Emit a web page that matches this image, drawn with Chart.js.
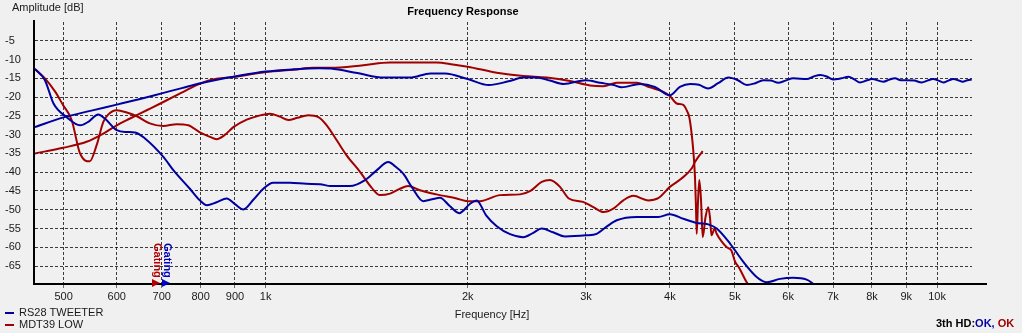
<!DOCTYPE html>
<html>
<head>
<meta charset="utf-8">
<title>Frequency Response</title>
<script src="https://cdn.jsdelivr.net/npm/chart.js@4.4.0/dist/chart.umd.min.js"></script>
<style>
  html, body { margin: 0; padding: 0; background: #f0f0f0; }
  #fr { display: block; }
</style>
</head>
<body>
<canvas id="fr" width="1022" height="333"></canvas>
<script>
// RS28 tweeter: response and 3rd harmonic
const tweeterFreq = [453, 500, 550, 600, 650, 700, 750, 800, 850, 900, 1000, 1100, 1200, 1250, 1370, 1500, 1640, 1760, 1850, 2000, 2150, 2300, 2420, 2530, 2650, 2780, 3000, 3150, 3300, 3390, 3610, 3800, 4000, 4140, 4290, 4420, 4560, 4720, 4890, 5050, 5210, 5360, 5510, 5660, 5800, 5950, 6110, 6400, 6550, 6700, 6850, 7000, 7200, 7380, 7530, 7680, 7850, 8000, 8320, 8500, 8660, 8830, 9000, 9250, 9490, 9680, 9870, 10050, 10220, 10400, 10580, 10750, 10920, 11100, 11265];
const tweeterDb   = [-28.0, -25.4, -23.6, -22.0, -20.5, -19.0, -17.6, -16.3, -15.3, -14.5, -13.2, -12.6, -12.3, -12.4, -13.6, -14.8, -14.8, -13.7, -13.7, -15.2, -16.8, -15.8, -14.8, -14.8, -15.6, -16.5, -15.5, -16.2, -16.8, -17.4, -16.5, -17.3, -19.5, -17.3, -16.5, -16.7, -17.7, -16.3, -14.8, -15.5, -16.8, -16.3, -15.5, -15.6, -16.2, -15.6, -15.0, -15.2, -14.5, -14.1, -14.5, -15.3, -15.0, -14.6, -15.3, -16.1, -15.6, -15.2, -15.9, -15.3, -15.0, -15.5, -15.5, -15.6, -16.1, -15.6, -15.2, -15.6, -16.1, -15.6, -15.2, -15.5, -15.9, -15.5, -15.3];
const tweeterHdFreq = [453, 469, 483, 505, 529, 545, 563, 576, 600, 620, 639, 661, 704, 729, 771, 798, 817, 845, 875, 900, 926, 960, 992, 1026, 1087, 1150, 1205, 1250, 1335, 1406, 1463, 1523, 1560, 1603, 1650, 1717, 1770, 1818, 1880, 1942, 2016, 2062, 2130, 2209, 2312, 2420, 2500, 2577, 2680, 2792, 3000, 3112, 3220, 3334, 3571, 3844, 4000, 4189, 4386, 4563, 4697, 4917, 5147, 5387, 5576, 5836, 6109, 6395, 6544];
const tweeterHdDb   = [-12.5, -15.5, -21.7, -25.3, -27.5, -26.5, -24.6, -25.7, -28.8, -29.3, -29.4, -31.0, -35.9, -39.5, -44.4, -47.5, -48.8, -48.0, -47.0, -48.5, -49.9, -47.2, -44.4, -42.8, -42.8, -43.1, -43.2, -43.7, -43.7, -42.1, -39.5, -37.3, -38.5, -40.4, -43.9, -47.7, -47.2, -46.8, -49.0, -50.9, -48.4, -47.5, -51.5, -54.4, -56.5, -57.3, -56.2, -55.0, -56.0, -57.1, -56.8, -56.4, -54.5, -52.8, -51.9, -51.9, -51.2, -52.4, -53.5, -53.9, -55.0, -59.0, -63.9, -67.9, -69.3, -68.4, -68.1, -68.6, -69.7];

// MDT39 low: response and 3rd harmonic
const wooferFreq = [453, 499, 541, 573, 600, 628, 665, 704, 754, 789, 826, 900, 1003, 1100, 1178, 1250, 1398, 1532, 1650, 1797, 1900, 2000, 2209, 2420, 2622, 2840, 3042, 3184, 3334, 3571, 3737, 3912, 4000, 4095, 4189, 4237, 4275, 4310, 4334, 4360, 4375, 4386, 4405, 4425, 4450, 4477, 4520, 4563, 4590, 4614, 4664, 4697, 4780, 4862, 4937, 5005, 5067, 5206, 5300];
const wooferDb   = [-35.0, -33.5, -31.9, -29.7, -27.5, -25.7, -23.5, -21.3, -18.6, -16.8, -15.5, -14.6, -13.3, -12.7, -12.2, -12.2, -11.5, -10.8, -10.8, -10.8, -11.3, -11.9, -13.5, -14.4, -14.8, -15.7, -16.9, -17.1, -16.2, -16.2, -17.4, -18.6, -19.7, -21.7, -22.1, -23.5, -25.3, -29.7, -34.1, -41.3, -49.3, -56.4, -48.0, -42.1, -47.0, -57.3, -52.0, -49.3, -52.0, -56.8, -55.0, -56.4, -58.5, -60.0, -60.8, -63.9, -65.3, -69.3, -71.0];
const wooferHdFreq = [453, 469, 486, 499, 514, 529, 547, 560, 573, 583, 600, 621, 643, 672, 704, 737, 767, 798, 826, 845, 870, 895, 937, 975, 1015, 1050, 1081, 1115, 1157, 1198, 1233, 1276, 1320, 1382, 1438, 1480, 1532, 1585, 1630, 1697, 1797, 1925, 2000, 2085, 2234, 2393, 2480, 2577, 2652, 2744, 2829, 2970, 3077, 3184, 3295, 3410, 3529, 3713, 3844, 4000, 4163, 4310, 4360, 4410, 4477];
const wooferHdDb   = [-12.5, -15.0, -18.6, -22.1, -26.1, -35.0, -37.1, -32.8, -26.6, -24.6, -23.5, -24.1, -25.1, -27.0, -27.7, -27.2, -27.5, -29.4, -30.6, -31.2, -30.0, -28.0, -26.0, -25.0, -24.4, -25.2, -26.1, -25.5, -24.8, -25.3, -27.5, -31.5, -35.5, -39.9, -44.1, -46.1, -45.7, -44.4, -43.7, -44.8, -45.9, -47.0, -47.7, -47.7, -46.1, -45.9, -45.0, -42.6, -42.1, -43.9, -47.0, -47.9, -49.3, -50.6, -49.7, -47.5, -46.3, -47.5, -46.9, -43.9, -41.7, -39.0, -37.3, -35.9, -34.4];

// axes
const freqTicks = [500, 600, 700, 800, 900, 1000, 2000, 3000, 4000, 5000, 6000, 7000, 8000, 9000, 10000];
const dbTicks = [-65, -60, -55, -50, -45, -40, -35, -30, -25, -20, -15, -10, -5];
const freqMin = 453.3, freqMax = 11275;
const dbMin = -69.5, dbMax = 0;

// gate positions (Hz): woofer, tweeter
const gateFreqs = [677, 701];

const BLUE = '#0000a0';
const RED = '#a00000';
const FONT = "'Liberation Sans', Arial, sans-serif";

const toPoints = (fs, ds) => fs.map((f, i) => ({ x: f, y: ds[i] }));

function lineSet(label, fs, ds, color) {
  return {
    label,
    data: toPoints(fs, ds),
    borderColor: color,
    borderWidth: 2,
    pointRadius: 0,
    fill: false,
    cubicInterpolationMode: 'monotone'
  };
}

// labels, axis lines, legend, gating marks
const decorations = {
  id: 'decorations',
  afterDraw(chart) {
    const { ctx, chartArea, scales } = chart;
    ctx.save();

    // axis lines
    ctx.strokeStyle = '#000';
    ctx.lineWidth = 2;
    ctx.beginPath();
    ctx.moveTo(chartArea.left - 1, 20);
    ctx.lineTo(chartArea.left - 1, chartArea.bottom + 1);
    ctx.lineTo(987, chartArea.bottom + 1);
    ctx.stroke();

    ctx.textBaseline = 'middle';
    ctx.fillStyle = '#1a1a1a';
    ctx.font = '11px ' + FONT;
    ctx.textAlign = 'left';
    ctx.fillText('Amplitude [dB]', 12, 8);
    ctx.textAlign = 'center';
    ctx.fillText('Frequency [Hz]', 492, 315);

    ctx.font = 'bold 11px ' + FONT;
    ctx.fillStyle = '#000';
    ctx.fillText('Frequency Response', 463, 12);

    // harmonic distortion status
    ctx.textAlign = 'left';
    let x = 936;
    const parts = [['3th HD:', '#000'], ['OK,', BLUE], [' OK', RED]];
    parts.forEach(([t, c]) => {
      ctx.fillStyle = c;
      ctx.fillText(t, x, 324);
      x += ctx.measureText(t).width;
    });

    // legend
    ctx.font = '11px ' + FONT;
    const legend = [['RS28 TWEETER', BLUE, 313], ['MDT39 LOW', RED, 325]];
    legend.forEach(([t, c, y]) => {
      ctx.strokeStyle = c;
      ctx.lineWidth = 2;
      ctx.beginPath();
      ctx.moveTo(5, y);
      ctx.lineTo(14, y);
      ctx.stroke();
      ctx.fillStyle = '#1a1a1a';
      ctx.fillText(t, 19, y);
    });

    // gating marks
    ctx.font = 'bold 11px ' + FONT;
    const gateColors = ['#b00000', '#0000c0'];
    gateFreqs.forEach((f, i) => {
      const px = Math.round(scales.x.getPixelForValue(f));
      const yb = chartArea.bottom;
      ctx.fillStyle = gateColors[i];
      ctx.beginPath();
      ctx.moveTo(px, yb - 4);
      ctx.lineTo(px + 8, yb);
      ctx.lineTo(px, yb + 4);
      ctx.closePath();
      ctx.fill();
      ctx.save();
      ctx.translate(px + 5, 243);
      ctx.rotate(Math.PI / 2);
      ctx.textAlign = 'left';
      ctx.textBaseline = 'middle';
      ctx.fillText('Gating', 0, 0);
      ctx.restore();
    });

    ctx.restore();
  }
};

Chart.defaults.font.family = FONT;
Chart.defaults.font.size = 11;
Chart.defaults.color = '#1a1a1a';

new Chart(document.getElementById('fr'), {
  type: 'line',
  data: {
    datasets: [
      lineSet('RS28 TWEETER', tweeterFreq, tweeterDb, BLUE),
      lineSet('RS28 TWEETER HD3', tweeterHdFreq, tweeterHdDb, BLUE),
      lineSet('MDT39 LOW', wooferFreq, wooferDb, RED),
      lineSet('MDT39 LOW HD3', wooferHdFreq, wooferHdDb, RED)
    ]
  },
  options: {
    responsive: false,
    animation: false,
    devicePixelRatio: 1,
    layout: { padding: { left: 5, right: 50, top: 22, bottom: 0 } },
    plugins: {
      legend: { display: false },
      tooltip: { enabled: false }
    },
    scales: {
      x: {
        type: 'logarithmic',
        min: freqMin,
        max: freqMax,
        afterBuildTicks: s => { s.ticks = freqTicks.map(v => ({ value: v })); },
        afterFit: s => { s.height = 50; },
        ticks: {
          autoSkip: false,
          maxRotation: 0,
          padding: 2,
          callback: v => v >= 1000 ? (v / 1000) + 'k' : String(v)
        },
        grid: {
          color: 'rgba(0,0,0,0.75)',
          lineWidth: 1,
          drawTicks: true,
          tickLength: 5,
          tickColor: 'rgba(0,0,0,0.55)'
        },
        border: { display: false, dash: [3, 2] }
      },
      y: {
        min: dbMin,
        max: dbMax,
        afterBuildTicks: s => { s.ticks = dbTicks.map(v => ({ value: v })); },
        afterFit: s => { s.width = 30; },
        ticks: { crossAlign: 'far', padding: 0 },
        grid: {
          color: 'rgba(0,0,0,0.75)',
          lineWidth: 1,
          drawTicks: false
        },
        border: { display: false, dash: [3, 2] }
      }
    }
  },
  plugins: [decorations]
});
</script>
</body>
</html>
